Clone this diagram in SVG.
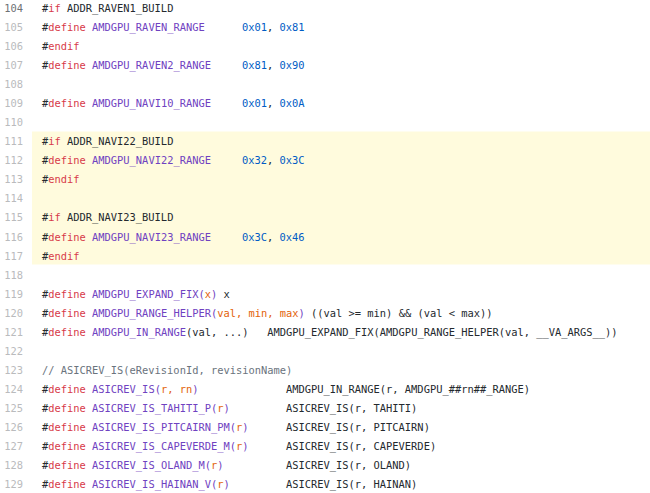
<svg xmlns="http://www.w3.org/2000/svg" width="650" height="493" viewBox="0 0 650 493">
<style>
text{font-family:"DejaVu Sans Mono","Liberation Mono",monospace;font-size:10.4px;white-space:pre;fill:#24292e}
.n{fill:#babbbd;text-anchor:end}
.n0{fill:#6e7175;text-anchor:end}
.k{fill:#d73a49}
.p{fill:#6f42c1}
.b{fill:#005cc5}
.o{fill:#e36209}
.c{fill:#6a737d}
</style>
<rect width="650" height="493" fill="#ffffff"/>
<rect id="highlight" x="32" y="131.5" width="618" height="133" fill="#fffbdd"/>
<g id="line-numbers">
<text class="n0" x="23" y="12">104</text>
<text class="n" x="23" y="31">105</text>
<text class="n" x="23" y="50.1">106</text>
<text class="n" x="23" y="69.1">107</text>
<text class="n" x="23" y="88.2">108</text>
<text class="n" x="23" y="107.2">109</text>
<text class="n" x="23" y="126.2">110</text>
<text class="n" x="23" y="145.3">111</text>
<text class="n" x="23" y="164.3">112</text>
<text class="n" x="23" y="183.4">113</text>
<text class="n" x="23" y="202.4">114</text>
<text class="n" x="23" y="221.4">115</text>
<text class="n" x="23" y="240.5">116</text>
<text class="n" x="23" y="259.5">117</text>
<text class="n" x="23" y="278.6">118</text>
<text class="n" x="23" y="297.6">119</text>
<text class="n" x="23" y="316.6">120</text>
<text class="n" x="23" y="335.7">121</text>
<text class="n" x="23" y="354.7">122</text>
<text class="n" x="23" y="373.8">123</text>
<text class="n" x="23" y="392.8">124</text>
<text class="n" x="23" y="411.8">125</text>
<text class="n" x="23" y="430.9">126</text>
<text class="n" x="23" y="449.9">127</text>
<text class="n" x="23" y="469">128</text>
<text class="n" x="23" y="488">129</text>
</g>
<g id="code">
<text x="42" y="12">#<tspan class="k">if</tspan> ADDR_RAVEN1_BUILD</text>
<text x="42" y="31">#<tspan class="k">define</tspan> <tspan class="p">AMDGPU_RAVEN_RANGE</tspan></text>
<text x="242" y="31"><tspan class="b">0x01</tspan>, <tspan class="b">0x81</tspan></text>
<text x="42" y="50.1">#<tspan class="k">endif</tspan></text>
<text x="42" y="69.1">#<tspan class="k">define</tspan> <tspan class="p">AMDGPU_RAVEN2_RANGE</tspan></text>
<text x="242" y="69.1"><tspan class="b">0x81</tspan>, <tspan class="b">0x90</tspan></text>
<text x="42" y="107.2">#<tspan class="k">define</tspan> <tspan class="p">AMDGPU_NAVI10_RANGE</tspan></text>
<text x="242" y="107.2"><tspan class="b">0x01</tspan>, <tspan class="b">0x0A</tspan></text>
<text x="42" y="145.3">#<tspan class="k">if</tspan> ADDR_NAVI22_BUILD</text>
<text x="42" y="164.3">#<tspan class="k">define</tspan> <tspan class="p">AMDGPU_NAVI22_RANGE</tspan></text>
<text x="242" y="164.3"><tspan class="b">0x32</tspan>, <tspan class="b">0x3C</tspan></text>
<text x="42" y="183.4">#<tspan class="k">endif</tspan></text>
<text x="42" y="221.4">#<tspan class="k">if</tspan> ADDR_NAVI23_BUILD</text>
<text x="42" y="240.5">#<tspan class="k">define</tspan> <tspan class="p">AMDGPU_NAVI23_RANGE</tspan></text>
<text x="242" y="240.5"><tspan class="b">0x3C</tspan>, <tspan class="b">0x46</tspan></text>
<text x="42" y="259.5">#<tspan class="k">endif</tspan></text>
<text x="42" y="297.6">#<tspan class="k">define</tspan> <tspan class="p">AMDGPU_EXPAND_FIX(</tspan><tspan class="o">x</tspan><tspan class="p">)</tspan> x</text>
<text x="42" y="316.6">#<tspan class="k">define</tspan> <tspan class="p">AMDGPU_RANGE_HELPER(</tspan><tspan class="o">val, min, max</tspan><tspan class="p">)</tspan> ((val &gt;= min) &amp;&amp; (val &lt; max))</text>
<text x="42" y="335.7">#<tspan class="k">define</tspan> <tspan class="p">AMDGPU_IN_RANGE</tspan>(val, ...)   AMDGPU_EXPAND_FIX(AMDGPU_RANGE_HELPER(val, __VA_ARGS__))</text>
<text class="c" x="42" y="373.8">// ASICREV_IS(eRevisionId, revisionName)</text>
<text x="42" y="392.8">#<tspan class="k">define</tspan> <tspan class="p">ASICREV_IS(</tspan><tspan class="o">r, rn</tspan><tspan class="p">)</tspan></text>
<text x="286" y="392.8">AMDGPU_IN_RANGE(r, AMDGPU_##rn##_RANGE)</text>
<text x="42" y="411.8">#<tspan class="k">define</tspan> <tspan class="p">ASICREV_IS_TAHITI_P(</tspan><tspan class="o">r</tspan><tspan class="p">)</tspan></text>
<text x="286" y="411.8">ASICREV_IS(r, TAHITI)</text>
<text x="42" y="430.9">#<tspan class="k">define</tspan> <tspan class="p">ASICREV_IS_PITCAIRN_PM(</tspan><tspan class="o">r</tspan><tspan class="p">)</tspan></text>
<text x="286" y="430.9">ASICREV_IS(r, PITCAIRN)</text>
<text x="42" y="449.9">#<tspan class="k">define</tspan> <tspan class="p">ASICREV_IS_CAPEVERDE_M(</tspan><tspan class="o">r</tspan><tspan class="p">)</tspan></text>
<text x="286" y="449.9">ASICREV_IS(r, CAPEVERDE)</text>
<text x="42" y="469">#<tspan class="k">define</tspan> <tspan class="p">ASICREV_IS_OLAND_M(</tspan><tspan class="o">r</tspan><tspan class="p">)</tspan></text>
<text x="286" y="469">ASICREV_IS(r, OLAND)</text>
<text x="42" y="488">#<tspan class="k">define</tspan> <tspan class="p">ASICREV_IS_HAINAN_V(</tspan><tspan class="o">r</tspan><tspan class="p">)</tspan></text>
<text x="286" y="488">ASICREV_IS(r, HAINAN)</text>
</g>
</svg>
